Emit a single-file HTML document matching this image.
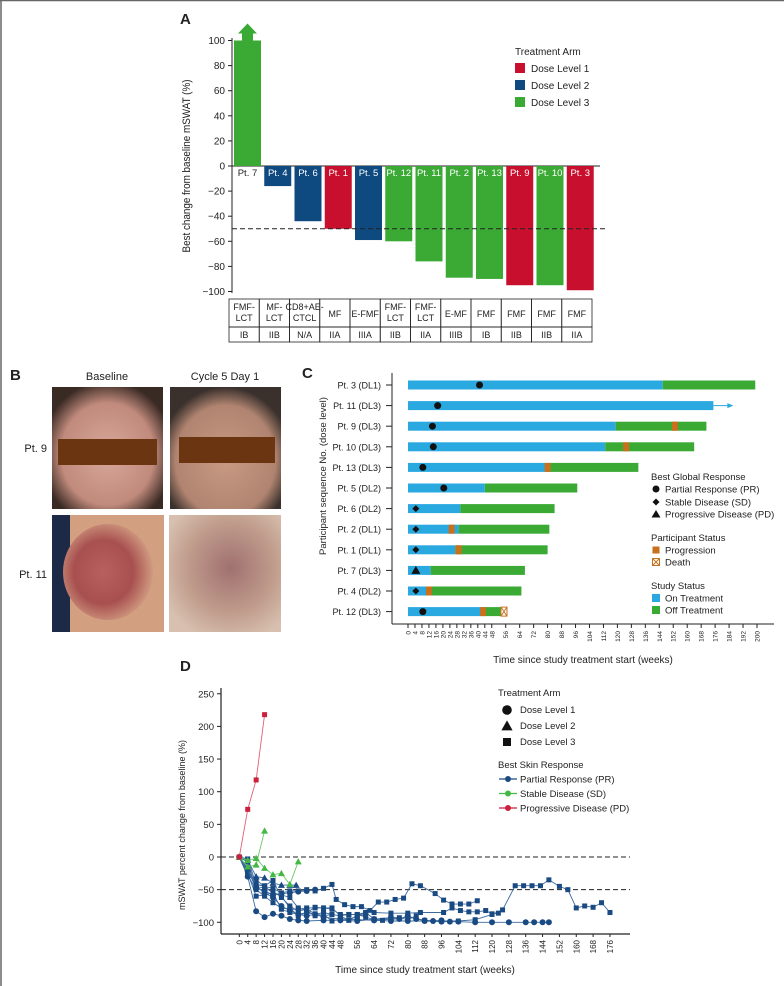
<!DOCTYPE html>
<html><head><meta charset="utf-8">
<style>
html,body{margin:0;padding:0;background:#fff;}
body{width:784px;height:986px;overflow:hidden;position:relative;font-family:"Liberation Sans",sans-serif;}
svg{position:absolute;left:0;top:0;}
text{font-family:"Liberation Sans",sans-serif;fill:#222;}
</style></head>
<body>
<svg id="fig" width="784" height="986" viewBox="0 0 784 986">
<line x1="1" y1="0" x2="1" y2="986" stroke="#666" stroke-width="1.5"/>
<line x1="0" y1="0.5" x2="784" y2="0.5" stroke="#666" stroke-width="1.5"/>
<g id="pA"></g>
<g id="pB">
  <text x="10" y="380" font-size="15" font-weight="bold">B</text>
  <text x="107" y="380" font-size="11" text-anchor="middle">Baseline</text>
  <text x="225" y="380" font-size="11" text-anchor="middle">Cycle 5 Day 1</text>
  <text x="47" y="452" font-size="11" text-anchor="end">Pt. 9</text>
  <text x="47" y="578" font-size="11" text-anchor="end">Pt. 11</text>
  <defs>
    <radialGradient id="face1" cx="50%" cy="55%" r="60%"><stop offset="0" stop-color="#d8a89a"/><stop offset="0.7" stop-color="#c08a7c"/><stop offset="1" stop-color="#3a2a24"/></radialGradient>
    <radialGradient id="face2" cx="50%" cy="60%" r="60%"><stop offset="0" stop-color="#c89a84"/><stop offset="0.75" stop-color="#b08470"/><stop offset="1" stop-color="#3a302c"/></radialGradient>
    <radialGradient id="skin1" cx="45%" cy="50%" r="55%"><stop offset="0" stop-color="#b86060"/><stop offset="0.6" stop-color="#a85050"/><stop offset="1" stop-color="#d09a80"/></radialGradient>
    <radialGradient id="skin2" cx="55%" cy="45%" r="65%"><stop offset="0" stop-color="#a07070"/><stop offset="0.6" stop-color="#c09c8c"/><stop offset="1" stop-color="#d8c0b0"/></radialGradient>
  </defs>
  <rect x="52" y="387" width="111" height="122" fill="url(#face1)"/>
  <rect x="58" y="439" width="99" height="26" fill="#6a3510"/>
  <rect x="170" y="387" width="111" height="122" fill="url(#face2)"/>
  <rect x="179" y="437" width="96" height="26" fill="#6a3510"/>
  <rect x="52" y="515" width="112" height="117" fill="#d2a080"/>
  <rect x="52" y="515" width="18" height="117" fill="#1c2a48"/>
  <ellipse cx="108" cy="572" rx="45" ry="48" fill="url(#skin1)"/>
  <rect x="169" y="515" width="112" height="117" fill="url(#skin2)"/>
</g>
<g id="pC"></g>
<g id="pD"></g>
</svg>
<script>
const NS="http://www.w3.org/2000/svg";
function mk(p,tag,at,txt){const e=document.createElementNS(NS,tag);for(const k in at)e.setAttribute(k,at[k]);if(txt!==undefined)e.textContent=txt;p.appendChild(e);return e;}
const RED="#c8102e",NAVY="#0e4a80",GRN="#3aaa35",CYAN="#2aa8e0",ORG="#c8701e";

// ---------- Panel A data ----------
const aPatients=["Pt. 7","Pt. 4","Pt. 6","Pt. 1","Pt. 5","Pt. 12","Pt. 11","Pt. 2","Pt. 13","Pt. 9","Pt. 10","Pt. 3"];
const aValues=[100,-16,-44,-50,-59,-60,-76,-89,-90,-95,-95,-99];
const aDose=[3,2,2,1,2,3,3,3,3,1,3,1];
const aDiag=[["FMF-","LCT"],["MF-","LCT"],["CD8+AE-","CTCL"],["MF"],["E-FMF"],["FMF-","LCT"],["FMF-","LCT"],["E-MF"],["FMF"],["FMF"],["FMF"],["FMF"]];
const aStage=["IB","IIB","N/A","IIA","IIIA","IIB","IIA","IIIB","IB","IIB","IIB","IIA"];
const aTicks=[100,80,60,40,20,0,-20,-40,-60,-80,-100];
(function(){
 const g=document.getElementById('pA');
 const y=v=>166-v*1.255, x0=234, step=30.25, bw=27;
 const col=d=>d===1?RED:d===2?NAVY:GRN;
 let t=mk(g,'text',{x:180,y:24,'font-size':15,'font-weight':'bold'},'A');
 
 let ax=mk(g,'line',{x1:232,y1:38,x2:232,y2:293,stroke:'#222','stroke-width':1});
 
 aTicks.forEach(v=>{
  const tk=mk(g,'line',{x1:228,x2:232,y1:y(v),y2:y(v),stroke:'#222'});
  
  const tl=mk(g,'text',{x:225,y:y(v)+3.5,'font-size':10,'text-anchor':'end'},(v<0?'\u2212':'')+Math.abs(v));
  
 });
 let zl=mk(g,'line',{x1:232,x2:600,y1:y(0),y2:y(0),stroke:'#222'});
 
 let yt=mk(g,'text',{transform:'translate(190,166) rotate(-90)','font-size':11,'text-anchor':'middle',textLength:173,lengthAdjust:'spacingAndGlyphs'},'Best change from baseline mSWAT (%)');
 
 aValues.forEach((v,i)=>{
  const bx=x0+i*step;
  const r=mk(g,'rect',{x:bx,y:Math.min(y(0),y(v)),width:bw,height:Math.abs(y(v)-y(0)),fill:col(aDose[i])});
  
  const lab=mk(g,'text',{x:bx+bw/2,y:y(0)+10,'font-size':9.5,'text-anchor':'middle'},aPatients[i]);
  lab.style.fill=v<0?'#fff':'#222';
  
  if(v>=100){
   const ar=mk(g,'polygon',{points:`${bx+8},${y(v)} ${bx+8},${y(v)-7} ${bx+4},${y(v)-7} ${bx+bw/2},${y(v)-17} ${bx+bw-4},${y(v)-7} ${bx+bw-8},${y(v)-7} ${bx+bw-8},${y(v)}`,fill:GRN});
   
  }
  const cx=x0-5+i*step, cw=step;
  const c1=mk(g,'rect',{x:cx,y:299,width:cw,height:28,fill:'none',stroke:'#222','stroke-width':0.8});
  
  const c2=mk(g,'rect',{x:cx,y:327,width:cw,height:15,fill:'none',stroke:'#222','stroke-width':0.8});
  
  const d=aDiag[i];
  d.forEach((s,k)=>{const tt=mk(g,'text',{x:cx+cw/2,y:d.length===1?317:310+k*11,'font-size':9,'text-anchor':'middle'},s);
   });
  const st=mk(g,'text',{x:cx+cw/2,y:338,'font-size':9,'text-anchor':'middle'},aStage[i]);
  
 });
 let dl=mk(g,'line',{x1:232,x2:605,y1:y(-50),y2:y(-50),stroke:'#222','stroke-dasharray':'5,3'});
 
 let lt=mk(g,'text',{x:515,y:55,'font-size':10},'Treatment Arm');
 
 [[RED,'Dose Level 1'],[NAVY,'Dose Level 2'],[GRN,'Dose Level 3']].forEach((e,k)=>{
  const s=mk(g,'rect',{x:515,y:63+k*17,width:10,height:10,fill:e[0]});
  
  const tx=mk(g,'text',{x:531,y:72+k*17,'font-size':10},e[1]);
  
 });
})();

// ---------- Panel C data ----------
const cPatients=["Pt. 3 (DL1)","Pt. 11 (DL3)","Pt. 9 (DL3)","Pt. 10 (DL3)","Pt. 13 (DL3)","Pt. 5 (DL2)","Pt. 6 (DL2)","Pt. 2 (DL1)","Pt. 1 (DL1)","Pt. 7 (DL3)","Pt. 4 (DL2)","Pt. 12 (DL3)"];
const cOnEnd=[146,175,119,113,80,44,30,29,27,13,12,43];
const cOffEnd=[199,175,171,164,132,97,84,81,80,67,65,55];
const cResponse=["PR","PR","PR","PR","PR","PR","SD","SD","SD","PD","SD","PR"];
const cRespWeek=[41,17,14,14.5,8.5,20.5,4.5,4.5,4.5,4.5,4.5,8.5];
const cProgWeek=[null,null,153,125,80,null,null,25,29,null,12,43];
const cDeathWeek=[null,null,null,null,null,null,null,null,null,null,null,55];
const cOngoing=[false,true,false,false,false,false,false,false,false,false,false,false];
const cTicks=[0,4,8,12,16,20,24,28,32,36,40,44,48,56,64,72,80,88,96,104,112,120,128,136,144,152,160,168,176,184,192,200];
(function(){
 const g=document.getElementById('pC');
 const x=w=>408+w*1.745, y=i=>385+i*20.6, bh=9;
 let t=mk(g,'text',{x:302,y:378,'font-size':15,'font-weight':'bold'},'C');
 
 let ya=mk(g,'line',{x1:392,y1:373,x2:392,y2:624,stroke:'#222'});
 
 let xa=mk(g,'line',{x1:392,y1:624,x2:774,y2:624,stroke:'#222'});
 
 cTicks.forEach(w=>{
  const tk=mk(g,'line',{x1:x(w),x2:x(w),y1:624,y2:628,stroke:'#222'});
  
  const tl=mk(g,'text',{transform:`translate(${x(w)+2.5},631) rotate(-90)`,'font-size':6.5,'text-anchor':'end'},String(w));
  
 });
 let xt=mk(g,'text',{x:583,y:663,'font-size':10,'text-anchor':'middle'},'Time since study treatment start (weeks)');
 
 let yt=mk(g,'text',{transform:'translate(326,476) rotate(-90)','font-size':9.5,'text-anchor':'middle'},'Participant sequence No. (dose level)');
 
 cPatients.forEach((p,i)=>{
  const yy=y(i);
  const tk=mk(g,'line',{x1:386,x2:392,y1:yy,y2:yy,stroke:'#222'});
  
  const lb=mk(g,'text',{x:381,y:yy+3.5,'font-size':9,'text-anchor':'end'},p);
  
  const on=mk(g,'rect',{x:x(0),y:yy-bh/2,width:x(cOnEnd[i])-x(0),height:bh,fill:CYAN});
  
  if(cOffEnd[i]>cOnEnd[i]){
   const off=mk(g,'rect',{x:x(cOnEnd[i]),y:yy-bh/2,width:x(cOffEnd[i])-x(cOnEnd[i]),height:bh,fill:GRN});
   
  }
  if(cOngoing[i]){
   const al=mk(g,'line',{x1:x(cOnEnd[i]),x2:x(cOnEnd[i])+18,y1:yy,y2:yy,stroke:CYAN,'stroke-width':1});
   
   const ah=mk(g,'polygon',{points:`${x(cOnEnd[i])+20},${yy} ${x(cOnEnd[i])+14},${yy-2.5} ${x(cOnEnd[i])+14},${yy+2.5}`,fill:CYAN});
   
  }
  if(cProgWeek[i]!==null){
   const pr=mk(g,'rect',{x:x(cProgWeek[i])-3,y:yy-bh/2,width:6,height:bh,fill:ORG});
   
  }
  if(cDeathWeek[i]!==null){
   const dx=x(cDeathWeek[i]);
   const dr=mk(g,'rect',{x:dx-3,y:yy-bh/2,width:6,height:bh,fill:'#fff',stroke:ORG,'stroke-width':1});
   
   mk(g,'path',{d:`M${dx-3},${yy-4.5}L${dx+3},${yy+4.5}M${dx+3},${yy-4.5}L${dx-3},${yy+4.5}`,stroke:ORG,'stroke-width':1});
  }
  const mx=x(cRespWeek[i]);let m;
  if(cResponse[i]==='PR') m=mk(g,'circle',{cx:mx,cy:yy,r:3.5,fill:'#111'});
  else if(cResponse[i]==='SD') m=mk(g,'polygon',{points:`${mx},${yy-3.5} ${mx+3.5},${yy} ${mx},${yy+3.5} ${mx-3.5},${yy}`,fill:'#111'});
  else m=mk(g,'polygon',{points:`${mx},${yy-4.5} ${mx+4.5},${yy+3.5} ${mx-4.5},${yy+3.5}`,fill:'#111'});
  
 });
 const L=[['Best Global Response',477],['Participant Status',538],['Study Status',586]];
 L.forEach(e=>{const tt=mk(g,'text',{x:651,y:e[1]+3,'font-size':9.5},e[0]);});
 const items=[['Partial Response (PR)',489,'c'],['Stable Disease (SD)',502,'d'],['Progressive Disease (PD)',514,'t'],['Progression',550,'p'],['Death',562,'x'],['On Treatment',598,'on'],['Off Treatment',610,'off']];
 items.forEach(it=>{
  const yy=it[1],mx=656;let m;
  if(it[2]==='c') m=mk(g,'circle',{cx:mx,cy:yy,r:3.5,fill:'#111'});
  else if(it[2]==='d') m=mk(g,'polygon',{points:`${mx},${yy-3.5} ${mx+3.5},${yy} ${mx},${yy+3.5} ${mx-3.5},${yy}`,fill:'#111'});
  else if(it[2]==='t') m=mk(g,'polygon',{points:`${mx},${yy-4} ${mx+4.5},${yy+3.5} ${mx-4.5},${yy+3.5}`,fill:'#111'});
  else if(it[2]==='p') m=mk(g,'rect',{x:mx-3.5,y:yy-3.5,width:7,height:7,fill:ORG});
  else if(it[2]==='x'){m=mk(g,'rect',{x:mx-3.5,y:yy-3.5,width:7,height:7,fill:'#fff',stroke:ORG});mk(g,'path',{d:`M${mx-3.5},${yy-3.5}L${mx+3.5},${yy+3.5}M${mx+3.5},${yy-3.5}L${mx-3.5},${yy+3.5}`,stroke:ORG});}
  else m=mk(g,'rect',{x:mx-4,y:yy-4,width:8,height:8,fill:it[2]==='on'?CYAN:GRN});
  
  const tt=mk(g,'text',{x:665,y:yy+3.5,'font-size':9.5},it[0]);
  
 });
})();

// ---------- Panel D data ----------
const dTicksX=[0,4,8,12,16,20,24,28,32,36,40,44,48,56,64,72,80,88,96,104,112,120,128,136,144,152,160,168,176];
const dTicksY=[250,200,150,100,50,0,-50,-100];
const dResp=["PD","SD","SD","PR","PR","PR","PR","PR","PR","PR","PR","PR","PR"];
const dDose=[3,2,2,3,3,1,3,1,2,3,3,1,3];
const dWeeks=[
 [0,4,8,12],
 [0,4,8,12],
 [0,4,8,12,16,20,24,28],
 [0,4,8,12,16,20,24,28,32,36,40,44,48,52,56,60,64,72,80,88,96,104,112,120,125,131,135,139,143,147,152,156,160,164,168,172,176],
 [0,4,8,12,16,20,24,28,32,36,40,44,46,50,54,58,62,66,70,74,78,82,86,93,97,101,105,109,113],
 [0,4,8,12,16,20,24,28,32,36,40,48,56,64,72,80,88,96,104,112,120,128,136,140,144,147],
 [0,4,8,12,16,20,24,28,32,36,40,44,48,52,56,60,64,72,80,86,97,101,105,109,113,117,120,123],
 [0,4,8,12,16,20,24,28,32,40,48,56,64,72,76,80,84,88,92,96,100],
 [0,4,8,12,16,20,24,27],
 [0,4,8,12,16,20,24,28,32,36,40,44,48,52,56,60],
 [0,4,8,12,16,20,24,28,32,36,40,44,48,52,56,60,64,68,72,76,80,84],
 [0,4,8,12,16,20,24,28,32,36],
 [0,4,8,12,16,20,24,28,32,36,40,44]
];
const dValues=[
 [0,73,118,218],
 [0,-15,-12,40],
 [0,-5,-2,-17,-27,-25,-42,-7],
 [0,-25,-60,-58,-55,-80,-85,-88,-85,-88,-85,-88,-90,-97,-90,-85,-95,-96,-92,-97,-98,-98,-96,-88,-81,-44,-44,-44,-44,-35,-45,-50,-78,-75,-77,-70,-85],
 [0,-3,-42,-45,-48,-55,-52,-52,-50,-52,-48,-42,-65,-73,-76,-76,-82,-69,-69,-65,-63,-41,-44,-56,-66,-72,-72,-72,-67],
 [0,-22,-45,-55,-62,-75,-82,-88,-90,-88,-92,-95,-96,-97,-98,-98,-98,-99,-99,-100,-100,-100,-100,-100,-100,-100],
 [0,-28,-50,-60,-70,-78,-80,-80,-78,-78,-78,-80,-88,-88,-88,-85,-85,-86,-86,-85,-85,-78,-82,-84,-84,-82,-87,-86],
 [0,-30,-83,-92,-87,-90,-95,-97,-98,-97,-97,-98,-95,-93,-95,-90,-95,-97,-98,-97,-99],
 [0,-5,-30,-32,-40,-43,-43,-43],
 [0,-8,-48,-46,-55,-58,-62,-78,-82,-90,-88,-98,-95,-96,-90,-88],
 [0,-25,-35,-45,-55,-60,-78,-90,-85,-77,-78,-78,-90,-88,-88,-92,-96,-97,-92,-93,-96,-90],
 [0,-20,-48,-52,-58,-56,-55,-53,-52,-50],
 [0,-18,-42,-44,-36,-62,-75,-83,-80,-87,-90,-88]
];
(function(){
 const g=document.getElementById('pD');
 const x=w=>239.3+w*2.106, y=v=>857-v*0.653;
 const RC={PR:"#1a4a82",SD:"#44b845",PD:"#cc1f3c"};
 const LC={PR:"#3a6aa0",SD:"#6cc86c",PD:"#e0607a"};
 let t=mk(g,'text',{x:180,y:671,'font-size':15,'font-weight':'bold'},'D');
 
 let ya=mk(g,'line',{x1:221,y1:688,x2:221,y2:934,stroke:'#222','stroke-width':1.2});
 
 let xa=mk(g,'line',{x1:221,y1:934,x2:630,y2:934,stroke:'#222','stroke-width':1.2});
 
 dTicksY.forEach(v=>{
  const tk=mk(g,'line',{x1:217,x2:221,y1:y(v),y2:y(v),stroke:'#222'});
  
  const tl=mk(g,'text',{x:214,y:y(v)+3.5,'font-size':9.5,'text-anchor':'end'},(v<0?'\u2212':'')+Math.abs(v));
  
 });
 dTicksX.forEach(w=>{
  const tk=mk(g,'line',{x1:x(w),x2:x(w),y1:934,y2:937,stroke:'#222'});
  
  const tl=mk(g,'text',{transform:`translate(${x(w)+3},940) rotate(-90)`,'font-size':8,'text-anchor':'end'},String(w));
  
 });
 let xt=mk(g,'text',{x:425,y:973,'font-size':10,'text-anchor':'middle'},'Time since study treatment start (weeks)');
 
 let yt=mk(g,'text',{transform:'translate(185,825) rotate(-90)','font-size':9,'text-anchor':'middle'},'mSWAT percent change from baseline (%)');
 
 [0,-50].forEach(v=>{const l=mk(g,'line',{x1:221,x2:630,y1:y(v),y2:y(v),stroke:'#222','stroke-dasharray':'5,3'});
  });
 function marker(par,cx,cy,dose,c,s){let m;
  if(dose===1) m=mk(par,'circle',{cx:cx,cy:cy,r:s*0.6,fill:c});
  else if(dose===2) m=mk(par,'polygon',{points:`${cx},${cy-s*0.7} ${cx+s*0.7},${cy+s*0.55} ${cx-s*0.7},${cy+s*0.55}`,fill:c});
  else m=mk(par,'rect',{x:cx-s/2,y:cy-s/2,width:s,height:s,fill:c});
  return m;}
 const order=[3,4,5,6,7,8,9,10,11,12,1,2,0];
 order.forEach(i=>{
  const pts=dWeeks[i].map((w,k)=>x(w)+','+y(dValues[i][k])).join(' ');
  const pl=mk(g,'polyline',{points:pts,fill:'none',stroke:LC[dResp[i]],'stroke-width':0.9});
  
  dWeeks[i].forEach((w,k)=>{const m=marker(g,x(w),y(dValues[i][k]),dDose[i],RC[dResp[i]],5);
   });
 });
 let lt=mk(g,'text',{x:498,y:696,'font-size':9.5},'Treatment Arm');
 
 ['Dose Level 1','Dose Level 2','Dose Level 3'].forEach((s,k)=>{
  const m=marker(g,507,710+k*16,k+1,'#111',8);
  
  const tt=mk(g,'text',{x:520,y:713+k*16,'font-size':9.5},s);
  
 });
 let lt2=mk(g,'text',{x:498,y:768,'font-size':9.5},'Best Skin Response');
 
 [['PR','Partial Response (PR)'],['SD','Stable Disease (SD)'],['PD','Progressive Disease (PD)']].forEach((e,k)=>{
  const yy=779+k*14.5;
  const l=mk(g,'line',{x1:499,x2:517,y1:yy,y2:yy,stroke:RC[e[0]],'stroke-width':1.2});
  
  const c=mk(g,'circle',{cx:508,cy:yy,r:3,fill:RC[e[0]]});
  
  const tt=mk(g,'text',{x:520,y:yy+3.5,'font-size':9.5},e[1]);
  
 });
})();
</script>
</body></html>
